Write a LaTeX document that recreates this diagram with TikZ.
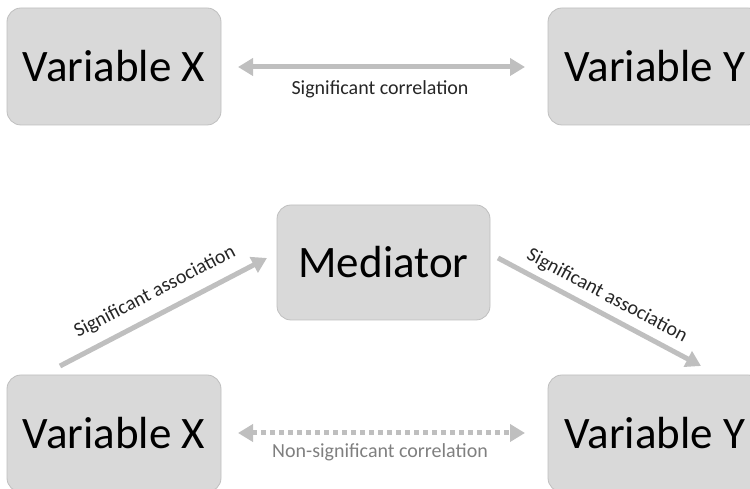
\documentclass[tikz,border=0pt]{standalone}
\usepackage{fontspec}
\setmainfont{Carlito}
\usetikzlibrary{arrows.meta}
\definecolor{boxfill}{HTML}{D9D9D9}
\definecolor{boxline}{HTML}{BFBFBF}
\definecolor{arrowgray}{HTML}{BFBFBF}
\definecolor{labgray}{HTML}{7F7F7F}
\tikzset{
  varbox/.style={draw=boxline, line width=0.8pt, fill=boxfill, rounded corners=14pt,
    minimum width=214pt, minimum height=117pt, inner sep=0pt,
    font=\fontsize{45}{50}\selectfont, text=black},
  medbox/.style={varbox, minimum width=213pt, minimum height=115pt},
  conn/.style={draw=arrowgray, line width=5pt,
    -{Triangle[length=15pt,width=17pt]}},
  biconn/.style={conn, {Triangle[length=15pt,width=17pt]}-{Triangle[length=15pt,width=17pt]}},
  dotconn/.style={biconn, dash pattern=on 5pt off 4pt},
  lab/.style={font=\fontsize{20}{24}\selectfont, inner sep=0pt, text=black!85},
}
\begin{document}
\begin{tikzpicture}[x=1pt,y=1pt]
\useasboundingbox (0,0) rectangle (750,489);
\clip (0,0) rectangle (750,489);

% top row
\node[varbox] (tx) at (114,422.5) {Variable X};
\node[varbox] (ty) at (655,422.5) {Variable Y};
\coordinate (ta) at (238,422);
\coordinate (tb) at (525,422);
\draw[biconn] (ta) -- (tb);
\node[lab] (tl) at (380,400) {Significant correlation};

% bottom triangle
\node[medbox] (md) at (383.5,226.5) {Mediator};
\node[varbox] (bx) at (114,55.5) {Variable X};
\node[varbox] (by) at (655,55.5) {Variable Y};

\coordinate (la) at (60,123);
\coordinate (lb) at (267,231);
\draw[conn] (la) -- (lb);
\node[lab, rotate=27.55] (ll) at (155,197) {Significant association};

\coordinate (ra) at (498,231);
\coordinate (rb) at (701,123);
\draw[conn] (ra) -- (rb);
\node[lab, rotate=-28] (rl) at (607,193) {Significant association};

\coordinate (ba) at (238,56);
\coordinate (bb) at (525,56);
\draw[dotconn] (ba) -- (bb);
\node[lab, text=labgray] (bl) at (380,37) {Non-significant correlation};
\end{tikzpicture}
\end{document}
